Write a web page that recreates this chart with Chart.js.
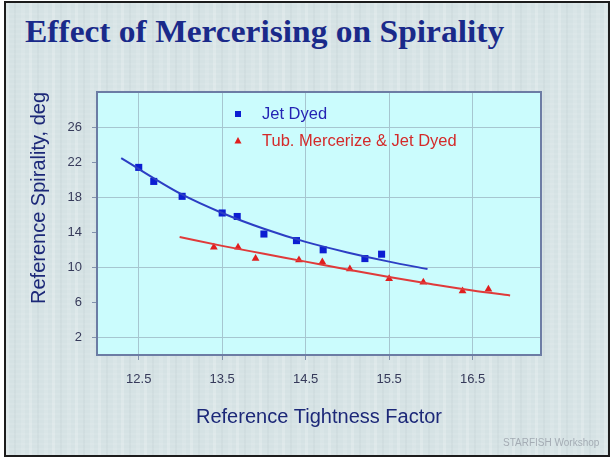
<!DOCTYPE html>
<html>
<head>
<meta charset="utf-8">
<title>Effect of Mercerising on Spirality</title>
<script src="https://cdn.jsdelivr.net/npm/chart.js@4.4.0/dist/chart.umd.min.js"></script>
<style>
    html, body { margin: 0; padding: 0; background: #ffffff; }
    #slide {
        position: relative;
        width: 611px;
        height: 460px;
        overflow: hidden;
        background: #ffffff;
    }
    /* fundo texturizado do slide */
    #moldura {
        position: absolute;
        left: 4px;
        top: 1px;
        width: 602px;
        height: 452px;
        border: 2px solid #1c1c1c;
        background-color: #d5e2e4;
        background-image:
            repeating-linear-gradient(90deg, rgba(255,255,255,0.20) 0 3px, rgba(255,255,255,0) 3px 8px, rgba(160,175,180,0.10) 8px 10px, rgba(255,255,255,0) 10px 15px, rgba(255,255,255,0.10) 15px 19px, rgba(255,255,255,0) 19px 23px),
            repeating-linear-gradient(0deg, rgba(255,255,255,0.08) 0 2px, rgba(255,255,255,0) 2px 5px);
    }
    #titulo {
        position: absolute;
        left: 25px;
        top: 16px;
        margin: 0;
        font: bold 31px/31px "Liberation Serif", "Times New Roman", serif;
        color: #1a2a8a;
        white-space: nowrap;
        transform: scaleX(1.08);
        transform-origin: left top;
    }
    #grafico { position: absolute; left: 0; top: 0; }
    #marca {
        position: absolute;
        left: 503px;
        top: 437px;
        font: 10px "Liberation Sans", Arial, sans-serif;
        color: #a4acb4;
        white-space: nowrap;
    }
</style>
</head>
<body>
<div id="slide">
    <div id="moldura"></div>
    <h1 id="titulo">Effect of Mercerising on Spirality</h1>
    <canvas id="grafico" width="611" height="460"></canvas>
    <div id="marca">STARFISH Workshop</div>
</div>
<script>
// Pontos medidos - Jet Dyed
const fatorJet = [12.5, 12.68, 13.02, 13.5, 13.68, 14.0, 14.39, 14.71, 15.21, 15.41];
const espiralJet = [21.4, 19.8, 18.1, 16.2, 15.8, 13.8, 13.05, 12.0, 11.0, 11.5];

// Pontos medidos - Tub. Mercerize & Jet Dyed
const fatorMerc = [13.4, 13.69, 13.9, 14.42, 14.7, 15.03, 15.5, 15.91, 16.38, 16.69];
const espiralMerc = [12.3, 12.3, 11.0, 10.85, 10.6, 9.8, 8.7, 8.3, 7.3, 7.5];

// Linhas de tendência
const fatorTendJet = [12.29, 13.0, 13.5, 14.0, 14.5, 15.0, 15.5, 15.96];
const espiralTendJet = [22.45, 18.4, 16.2, 14.4, 12.9, 11.7, 10.65, 9.8];
const fatorTendMerc = [12.99, 13.5, 14.0, 14.5, 15.0, 15.5, 16.0, 16.5, 16.95];
const espiralTendMerc = [13.45, 12.45, 11.55, 10.65, 9.75, 8.9, 8.1, 7.35, 6.8];

// Rótulos dos eixos
const ticksX = [12.5, 13.5, 14.5, 15.5, 16.5];
const ticksY = [2, 6, 10, 14, 18, 22, 26];
const gradeY = [2, 10, 18, 26];

const nomesSeries = ['Jet Dyed', 'Tub. Mercerize & Jet Dyed'];

const corAzul = '#0c1ed2';
const corVermelho = '#e01e1e';
const corLinhaAzul = '#2c3ec4';
const corLinhaVermelha = '#e03a3a';
const corGrade = '#a6c6d0';
const corTexto = '#1c2878';

function pares(xs, ys) {
    return xs.map((x, i) => ({ x: x, y: ys[i] }));
}

// Fundo e borda da área do gráfico
const caixaGrafico = {
    id: 'caixaGrafico',
    beforeDraw(chart) {
        const { ctx, chartArea: a } = chart;
        ctx.save();
        ctx.fillStyle = '#cbfcfd';
        ctx.fillRect(a.left, a.top, a.right - a.left, a.bottom - a.top);
        ctx.restore();
    },
    afterDraw(chart) {
        const { ctx, chartArea: a } = chart;
        ctx.save();
        ctx.strokeStyle = '#6c7ca4';
        ctx.lineWidth = 2;
        ctx.strokeRect(a.left, a.top, a.right - a.left, a.bottom - a.top);
        ctx.restore();
    }
};

// Legenda dentro da área do gráfico
const legendaInterna = {
    id: 'legendaInterna',
    afterDraw(chart) {
        const { ctx, chartArea: a } = chart;
        const mx = a.left + 141;
        const tx = a.left + 165;
        const y1 = a.top + 22;
        const y2 = a.top + 49;
        ctx.save();
        ctx.font = '16.5px "Liberation Sans", Arial, sans-serif';
        ctx.textBaseline = 'middle';
        ctx.textAlign = 'left';

        ctx.fillStyle = corAzul;
        ctx.fillRect(mx - 3, y1 - 3, 6, 6);
        ctx.fillStyle = '#2424b4';
        ctx.fillText(nomesSeries[0], tx, y1);

        ctx.fillStyle = corVermelho;
        ctx.beginPath();
        ctx.moveTo(mx, y2 - 4);
        ctx.lineTo(mx + 3.5, y2 + 2.5);
        ctx.lineTo(mx - 3.5, y2 + 2.5);
        ctx.closePath();
        ctx.fill();
        ctx.fillStyle = '#d42a2a';
        ctx.fillText(nomesSeries[1], tx, y2);
        ctx.restore();
    }
};

function criarGrafico() {
    const ctx = document.getElementById('grafico');
    window.graficoEspiral = new Chart(ctx, {
        type: 'scatter',
        data: {
            datasets: [
                {
                    label: nomesSeries[0] + ' (tendência)',
                    data: pares(fatorTendJet, espiralTendJet),
                    showLine: true,
                    borderColor: corLinhaAzul,
                    borderWidth: 2,
                    pointRadius: 0,
                    cubicInterpolationMode: 'monotone'
                },
                {
                    label: nomesSeries[1] + ' (tendência)',
                    data: pares(fatorTendMerc, espiralTendMerc),
                    showLine: true,
                    borderColor: corLinhaVermelha,
                    borderWidth: 2,
                    pointRadius: 0,
                    cubicInterpolationMode: 'monotone'
                },
                {
                    label: nomesSeries[0],
                    data: pares(fatorJet, espiralJet),
                    pointStyle: 'rect',
                    pointRadius: 5,
                    backgroundColor: corAzul,
                    borderColor: corAzul,
                    borderWidth: 0
                },
                {
                    label: nomesSeries[1],
                    data: pares(fatorMerc, espiralMerc),
                    pointStyle: 'triangle',
                    pointRadius: 4.5,
                    backgroundColor: corVermelho,
                    borderColor: corVermelho,
                    borderWidth: 0
                }
            ]
        },
        options: {
            responsive: false,
            animation: false,
            layout: { padding: { left: 25, right: 70, top: 92, bottom: 0 } },
            plugins: {
                legend: { display: false },
                tooltip: { enabled: false },
                title: { display: false }
            },
            scales: {
                x: {
                    type: 'linear',
                    min: 12,
                    max: 17.32,
                    afterBuildTicks: scale => { scale.ticks = ticksX.map(v => ({ value: v })); },
                    afterFit: scale => { scale.height = 105; },
                    ticks: {
                        color: '#363a5a',
                        font: { family: '"Liberation Sans", Arial, sans-serif', size: 13 },
                        padding: 12,
                        maxRotation: 0,
                        autoSkip: false,
                        callback: v => v.toFixed(1)
                    },
                    grid: { color: corGrade, tickColor: '#8392ac', tickLength: 5, lineWidth: 1 },
                    border: { display: false },
                    title: {
                        display: true,
                        text: 'Reference Tightness Factor',
                        color: corTexto,
                        font: { family: '"Liberation Sans", Arial, sans-serif', size: 20 },
                        padding: { top: 0, bottom: 31 }
                    }
                },
                y: {
                    type: 'linear',
                    min: 0,
                    max: 30,
                    afterBuildTicks: scale => { scale.ticks = ticksY.map(v => ({ value: v })); },
                    afterFit: scale => { scale.width = 72; },
                    ticks: {
                        color: '#363a5a',
                        font: { family: '"Liberation Sans", Arial, sans-serif', size: 13 },
                        padding: 10,
                        autoSkip: false
                    },
                    grid: {
                        color: c => (c.tick && gradeY.includes(c.tick.value)) ? corGrade : 'rgba(0,0,0,0)',
                        tickColor: '#8392ac',
                        tickLength: 5,
                        lineWidth: 1
                    },
                    border: { display: false },
                    title: {
                        display: true,
                        text: 'Reference Spirality, deg',
                        align: 'end',
                        color: corTexto,
                        font: { family: '"Liberation Sans", Arial, sans-serif', size: 20 },
                        padding: { top: 2, bottom: 0 }
                    }
                }
            }
        },
        plugins: [caixaGrafico, legendaInterna]
    });
}

criarGrafico();
</script>
</body>
</html>
